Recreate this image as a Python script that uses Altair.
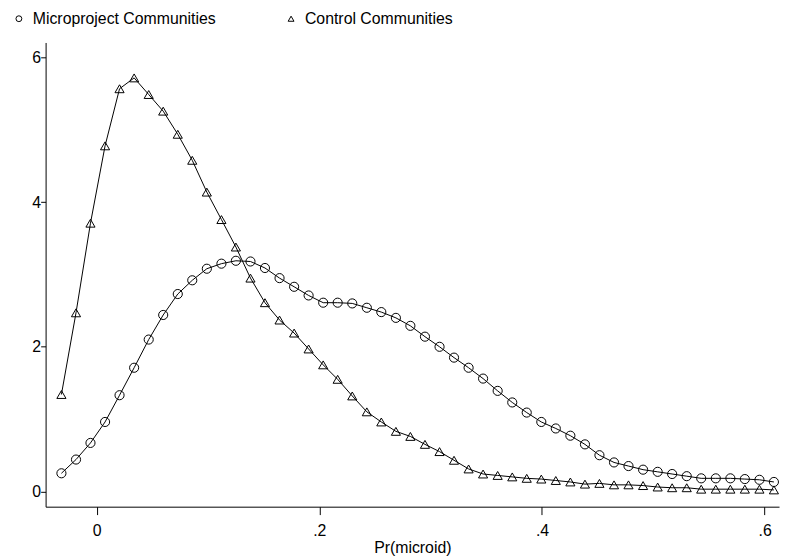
import altair as alt
import pandas as pd

x_vals = [-0.0316, -0.0185, -0.0055, 0.0076, 0.0206, 0.0337, 0.0468, 0.0598, 0.0729, 0.0859,
          0.0990, 0.1121, 0.1251, 0.1382, 0.1512, 0.1643, 0.1774, 0.1904, 0.2035, 0.2165,
          0.2296, 0.2427, 0.2557, 0.2688, 0.2818, 0.2949, 0.3080, 0.3210, 0.3341, 0.3471,
          0.3602, 0.3733, 0.3863, 0.3994, 0.4124, 0.4255, 0.4386, 0.4516, 0.4647, 0.4777,
          0.4908, 0.5039, 0.5169, 0.5300, 0.5430, 0.5561, 0.5692, 0.5822, 0.5953, 0.6083]

micro = [0.25, 0.44, 0.67, 0.96, 1.33, 1.71, 2.10, 2.44, 2.73, 2.92,
         3.08, 3.15, 3.19, 3.18, 3.09, 2.95, 2.83, 2.71, 2.61, 2.61,
         2.60, 2.54, 2.48, 2.40, 2.29, 2.14, 2.00, 1.85, 1.71, 1.56,
         1.39, 1.23, 1.09, 0.96, 0.87, 0.77, 0.65, 0.50, 0.40, 0.35,
         0.30, 0.27, 0.24, 0.21, 0.18, 0.18, 0.18, 0.17, 0.16, 0.13]

control = [1.34, 2.47, 3.71, 4.78, 5.57, 5.72, 5.49, 5.26, 4.94, 4.58,
           4.14, 3.76, 3.38, 2.95, 2.61, 2.37, 2.19, 1.97, 1.75, 1.55,
           1.32, 1.10, 0.96, 0.83, 0.76, 0.65, 0.55, 0.43, 0.31, 0.24,
           0.22, 0.20, 0.18, 0.17, 0.15, 0.13, 0.10, 0.11, 0.09, 0.09,
           0.08, 0.06, 0.05, 0.05, 0.03, 0.03, 0.03, 0.03, 0.03, 0.02]

series_names = ["Microproject Communities", "Control Communities"]
x_ticks = [0, 0.2, 0.4, 0.6]
y_ticks = [0, 2, 4, 6]

rows = []
for xv, m, c in zip(x_vals, micro, control):
    rows.append({"x": xv, "y": m, "series": series_names[0]})
    rows.append({"x": xv, "y": c, "series": series_names[1]})
df = pd.DataFrame(rows)

FONT = "Liberation Sans"
FS = 16

xscale = alt.Scale(domain=[-0.0458, 0.6129], nice=False, zero=False)
yscale = alt.Scale(domain=[-0.212, 6.21], nice=False, zero=False)

x_enc = alt.X("x:Q", scale=xscale, axis=alt.Axis(
    values=x_ticks,
    labelExpr="datum.value == 0 ? '0' : replace(format(datum.value, '.1f'), '0.', '.')",
    title="Pr(microid)", grid=False, tickSize=8, labelPadding=8, titlePadding=1,
))
y_enc = alt.Y("y:Q", scale=yscale, axis=alt.Axis(
    values=y_ticks, title=None, grid=False, tickSize=5, labelPadding=0, format="d",
))

base = alt.Chart(df)

lines = base.mark_line(color="black", strokeWidth=1).encode(
    x=x_enc, y=y_enc, detail="series:N"
)

points = base.mark_point(filled=False, color="black", strokeWidth=1, size=85, opacity=1).encode(
    x=x_enc, y=y_enc,
    shape=alt.Shape("series:N",
                    scale=alt.Scale(domain=series_names, range=["circle", "triangle-up"]),
                    sort=series_names,
                    legend=alt.Legend(
                        title=None, orient="none", direction="horizontal",
                        legendX=-35, legendY=-32,
                        symbolSize=35, symbolStrokeWidth=1, symbolStrokeColor="black",
                        symbolFillColor="white",
                        labelFontSize=FS, labelFont=FONT, labelColor="black",
                        labelOffset=6, columnPadding=68, labelLimit=400,
                    )),
)

chart = alt.layer(lines, points).properties(
    width=741, height=469,
    autosize=alt.AutoSizeParams(type="none"),
    padding={"left": 38, "top": 32, "right": 3, "bottom": 47},
).configure_view(strokeWidth=0).configure_axis(
    labelFont=FONT, titleFont=FONT, labelFontSize=FS, titleFontSize=FS,
    titleFontWeight="normal", labelColor="black", titleColor="black",
    domainColor="black", tickColor="black", domainWidth=1, tickWidth=1,
)

chart.save("out.html", embed_options={"renderer": "svg", "actions": False})
